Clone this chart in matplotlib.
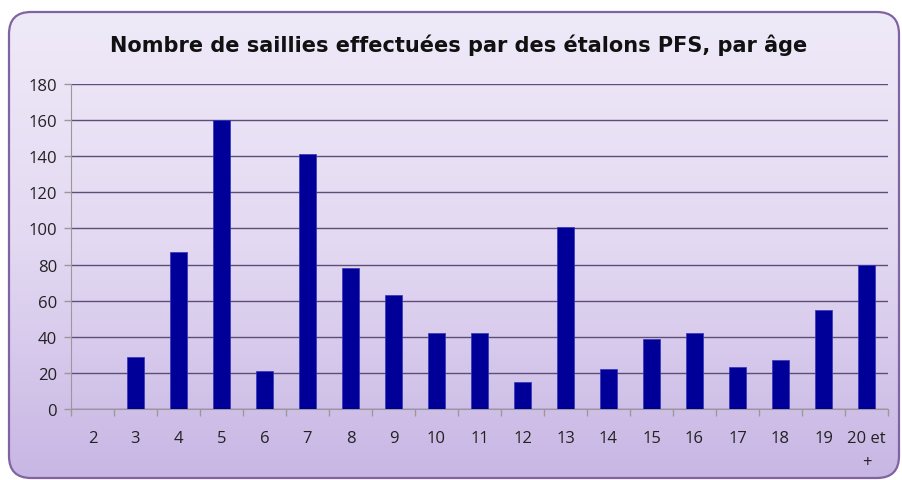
import numpy as np
import matplotlib.pyplot as plt
from matplotlib.patches import FancyBboxPatch
from matplotlib.colors import LinearSegmentedColormap

ages = ['2', '3', '4', '5', '6', '7', '8', '9', '10', '11', '12', '13',
        '14', '15', '16', '17', '18', '19', '20 et\n+']
saillies = [0, 29, 87, 160, 21, 141, 78, 63, 42, 42, 15, 101,
            22, 39, 42, 23, 27, 55, 80]
yticks = [0, 20, 40, 60, 80, 100, 120, 140, 160, 180]

title = "Nombre de saillies effectuées par des étalons PFS, par âge"

fig = plt.figure(figsize=(9.03, 4.81), dpi=100)

# background panel with gradient and rounded border
bg = fig.add_axes([0, 0, 1, 1])
bg.set_xlim(0, 903)
bg.set_ylim(481, 0)
bg.axis('off')
cmap = LinearSegmentedColormap.from_list('lav', ['#efeaf8', '#e3d9f2', '#c8b6e4'])
grad = np.linspace(0, 1, 256).reshape(-1, 1)
im = bg.imshow(grad, cmap=cmap, extent=[8, 900, 479, 12], aspect='auto', zorder=0)
panel = FancyBboxPatch((9, 13), 890, 466, boxstyle="round,pad=0,rounding_size=22",
                       facecolor='none', edgecolor='#8064a2', linewidth=1.6, zorder=2)
bg.add_patch(panel)
im.set_clip_path(panel)

bg.text(459, 45, title, ha='center', va='center', fontsize=15, fontweight='bold',
        family=['DejaVu Sans'], color='#111111')

ax = fig.add_axes([71 / 903, 1 - 410 / 481, (888 - 71) / 903, 325 / 481])
ax.patch.set_alpha(0)
x = np.arange(len(ages))
ax.bar(x, saillies, width=0.4, color='#000099', edgecolor='#3333bb', linewidth=0.5, zorder=3)

ax.set_xlim(-0.5, len(ages) - 0.5)
ax.set_ylim(0, 180)
ax.set_yticks(yticks)
ax.yaxis.grid(True, color='#5e4d78', linewidth=1.0, zorder=1)
ax.set_axisbelow(True)

ax.set_xticks(np.arange(-0.5, len(ages), 1))
ax.set_xticklabels([])
ax.set_xticks(x, minor=True)
ax.set_xticklabels(ages, minor=True, fontsize=12, family=['Open Sans', 'DejaVu Sans'],
                   color='#222222', linespacing=1.7, va='top')
ax.tick_params(axis='x', which='minor', length=0, pad=15)
ax.tick_params(axis='x', which='major', length=5, color='#999999', width=1)
ax.tick_params(axis='y', length=5, color='#999999', width=1, pad=5,
               labelsize=12, labelcolor='#222222')
for lab in ax.get_yticklabels():
    lab.set_family(['Open Sans', 'DejaVu Sans'])

for side in ['top', 'right']:
    ax.spines[side].set_visible(False)
ax.spines['left'].set_color('#999999')
ax.spines['bottom'].set_color('#999999')

fig.savefig('out.png', dpi=100)
